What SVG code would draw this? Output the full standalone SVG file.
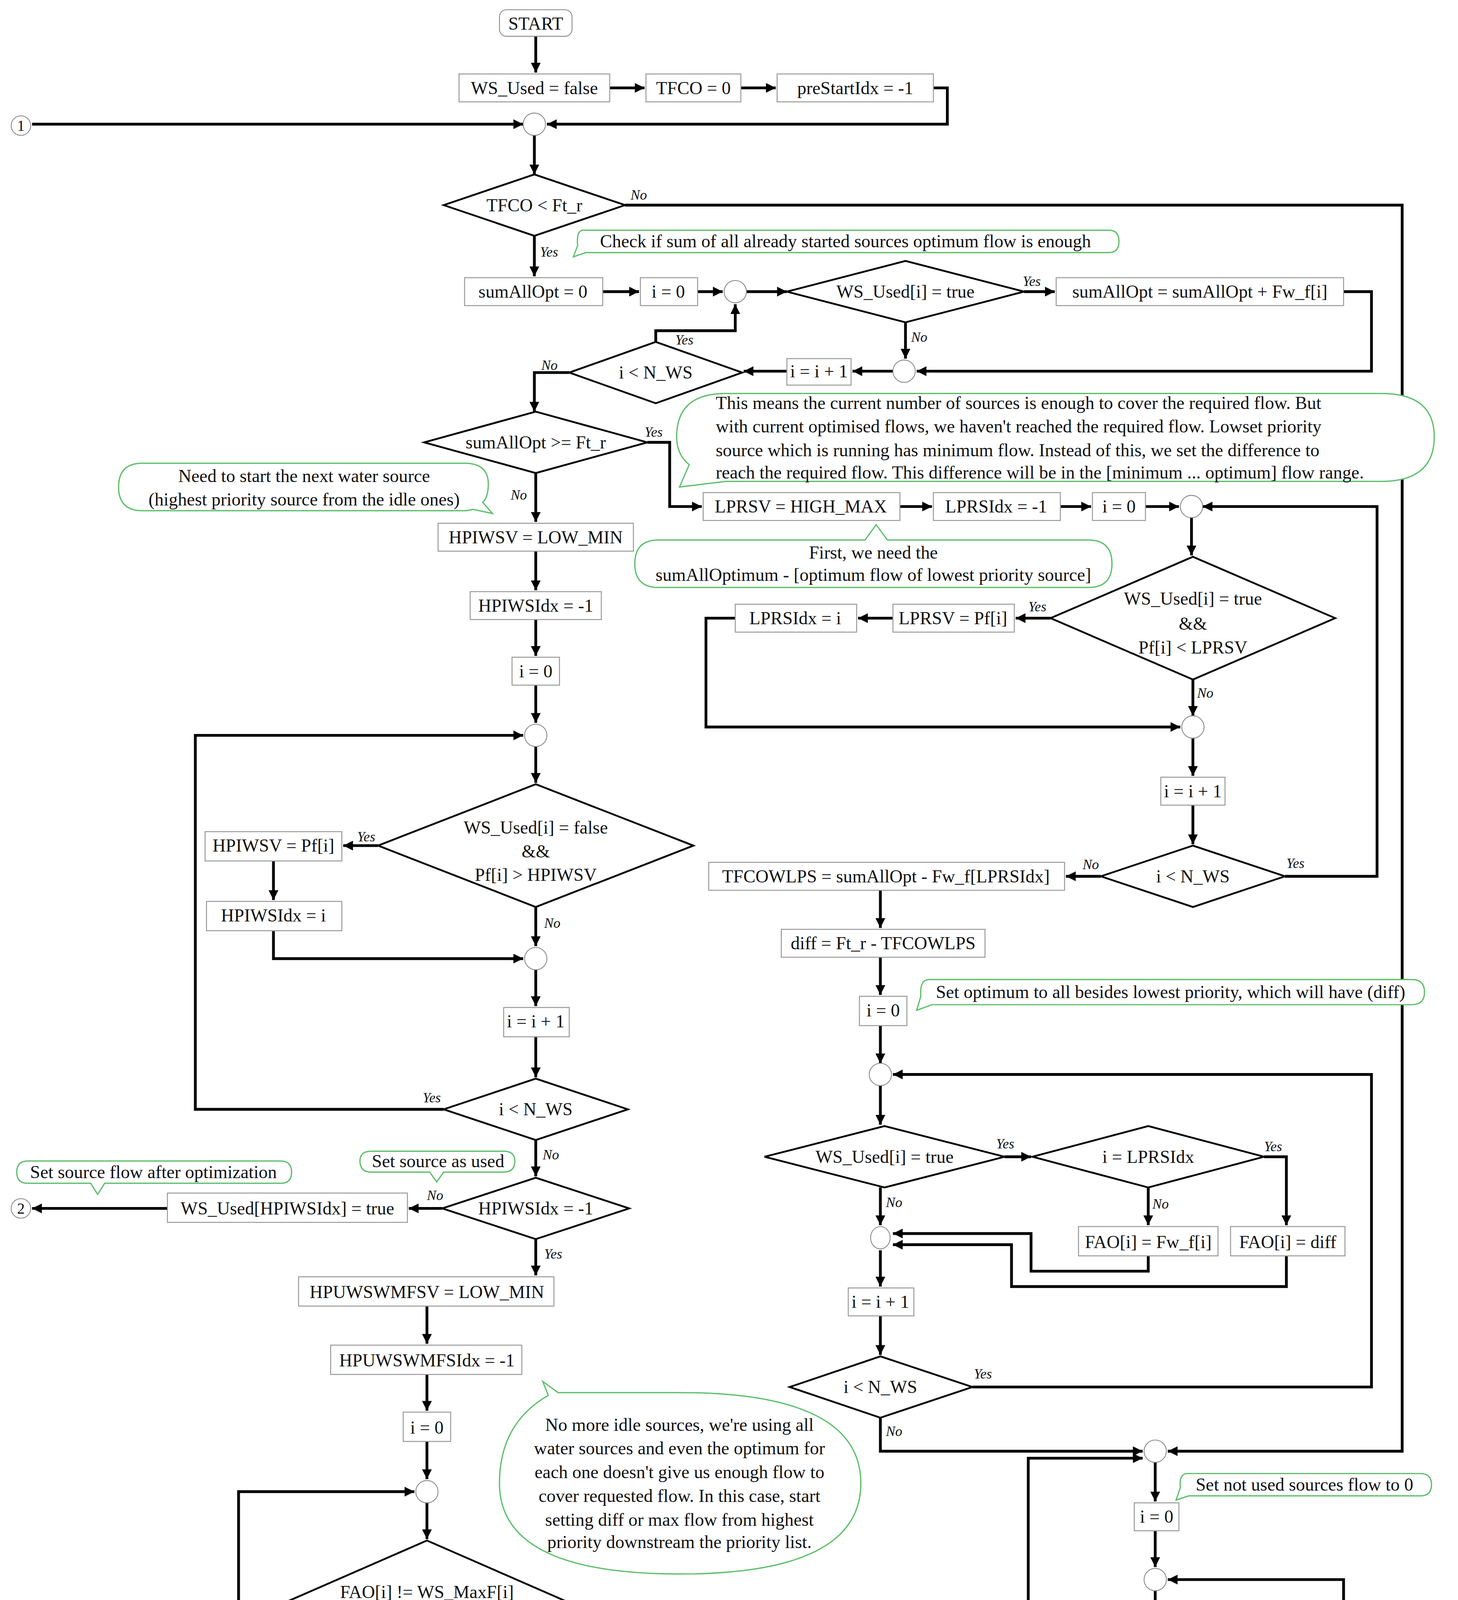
<svg xmlns="http://www.w3.org/2000/svg" width="3733" height="5607" viewBox="0 0 3733 5607">
<style>
.b{fill:#fff;stroke:#999;stroke-width:0.7}
.d{fill:#fff;stroke:#000;stroke-width:1.3}
.c{fill:#fff;stroke:#888;stroke-width:0.6}
.g{fill:#fff;stroke:#5cbf6a;stroke-width:0.9}
.k{fill:none;stroke:#000;stroke-width:2}
text{font-family:"Liberation Serif","DejaVu Serif",serif;font-size:13px;fill:#111}
.t{text-anchor:middle;dominant-baseline:central}
.l{font-size:10px;font-style:italic}
.n{font-size:11px;text-anchor:middle;dominant-baseline:central}
</style>
<defs>
<marker id="a" viewBox="0 0 10 10" refX="10" refY="5" markerWidth="8" markerHeight="7" markerUnits="userSpaceOnUse" orient="auto"><path d="M0,0L10,5L0,10z" fill="#000"/></marker>
</defs>
<rect width="3733" height="5607" fill="#fff"/>
<g transform="scale(3.5722)">
<g id="connectors" class="k" marker-end="url(#a)">
<path d="M384,26V52"/>
<path d="M437,63H462"/>
<path d="M531,63H556"/>
<path d="M669,63H679V89H392"/>
<path d="M23,89H375"/>
<path d="M383,97V125"/>
<path d="M448,147H1005V1040H837"/>
<path d="M383,169V198"/>
<path d="M432,209H458"/>
<path d="M500,209H518"/>
<path d="M535,209H564"/>
<path d="M734,209H756"/>
<path d="M963,209H983V266H657"/>
<path d="M649,231V257"/>
<path d="M640,266H611"/>
<path d="M564,266H533"/>
<path d="M470,245V237H527V218"/>
<path d="M408,267H383V295"/>
<path d="M464,317H480V363H503"/>
<path d="M384,339V374"/>
<path d="M645,363H668"/>
<path d="M760,363H782"/>
<path d="M821,363H845"/>
<path d="M921,628H987V363H862"/>
<path d="M854,371V398"/>
<path d="M753,443H728"/>
<path d="M640,443H615"/>
<path d="M527,443H506V521H846"/>
<path d="M855,487V513"/>
<path d="M855,529V556"/>
<path d="M855,577V605"/>
<path d="M789,628H764"/>
<path d="M631,638V665"/>
<path d="M631,686V713"/>
<path d="M631,735V762"/>
<path d="M697,994H983V770H640"/>
<path d="M631,778V806"/>
<path d="M720,829H739"/>
<path d="M906,829H922V878"/>
<path d="M823,851V878"/>
<path d="M631,851V878"/>
<path d="M823,900V911H739V884H640"/>
<path d="M922,900V922H725V892H640"/>
<path d="M631,896V922"/>
<path d="M631,943V971"/>
<path d="M631,1016V1040H819"/>
<path d="M384,395V423"/>
<path d="M384,444V470"/>
<path d="M384,491V518"/>
<path d="M318,795H140V527H375"/>
<path d="M384,535V561"/>
<path d="M271,606H246"/>
<path d="M196,617V645"/>
<path d="M196,667V687H375"/>
<path d="M384,650V678"/>
<path d="M384,695V721"/>
<path d="M384,743V772"/>
<path d="M384,817V843"/>
<path d="M317,866H293"/>
<path d="M120,866H23"/>
<path d="M384,888V914"/>
<path d="M306,936V963"/>
<path d="M306,985V1011"/>
<path d="M306,1033V1060"/>
<path d="M239,1355H171V1069H297"/>
<path d="M306,1077V1103"/>
<path d="M432,1159H456"/>
<path d="M528,1170V1197"/>
<path d="M528,1218V1247H315"/>
<path d="M306,1214V1238"/>
<path d="M306,1255V1282"/>
<path d="M306,1304V1332"/>
<path d="M306,1377V1401"/>
<path d="M203,1424H181"/>
<path d="M111,1424H88"/>
<path d="M53,1424H23"/>
<path d="M409,1424H432V1481"/>
<path d="M23,1491H423"/>
<path d="M441,1490H737V1045H819"/>
<path d="M828,1048V1076"/>
<path d="M828,1097V1123"/>
<path d="M895,1448H963V1132H837"/>
<path d="M828,1140V1166"/>
<path d="M908,1211H924V1341H837"/>
<path d="M828,1255V1283"/>
<path d="M828,1304V1332"/>
<path d="M828,1349V1375"/>
<path d="M828,1396V1425"/>
<path d="M829,1470V1494"/>
</g>
<g id="labels">
<text class="l" x="452" y="143">No</text>
<text class="l" x="387" y="184">Yes</text>
<text class="l" x="733" y="205">Yes</text>
<text class="l" x="653" y="245">No</text>
<text class="l" x="484" y="247">Yes</text>
<text class="l" x="388" y="265">No</text>
<text class="l" x="462" y="313">Yes</text>
<text class="l" x="366" y="358">No</text>
<text class="l" x="737" y="438">Yes</text>
<text class="l" x="858" y="500">No</text>
<text class="l" x="922" y="622">Yes</text>
<text class="l" x="776" y="623">No</text>
<text class="l" x="714" y="823">Yes</text>
<text class="l" x="906" y="825">Yes</text>
<text class="l" x="635" y="865">No</text>
<text class="l" x="826" y="866">No</text>
<text class="l" x="698" y="988">Yes</text>
<text class="l" x="635" y="1029">No</text>
<text class="l" x="256" y="603">Yes</text>
<text class="l" x="390" y="665">No</text>
<text class="l" x="303" y="790">Yes</text>
<text class="l" x="389" y="831">No</text>
<text class="l" x="306" y="860">No</text>
<text class="l" x="390" y="902">Yes</text>
<text class="l" x="434" y="1155">Yes</text>
<text class="l" x="312" y="1226">No</text>
<text class="l" x="227" y="1351">Yes</text>
<text class="l" x="312" y="1390">No</text>
<text class="l" x="190" y="1419">No</text>
<text class="l" x="414" y="1421">Yes</text>
<text class="l" x="909" y="1206">No</text>
<text class="l" x="834" y="1269">Yes</text>
<text class="l" x="894" y="1442">Yes</text>
<text class="l" x="834" y="1483">No</text>
</g>
<g id="n-start"><rect class="c" x="358" y="7" width="52" height="19" rx="5"/><text class="t" x="384" y="17">START</text></g>
<g id="n-wsused"><rect class="b" x="329" y="53" width="108" height="20"/><text class="t" x="383" y="63">WS_Used = false</text></g>
<g id="n-tfco0"><rect class="b" x="463" y="53" width="68" height="20"/><text class="t" x="497" y="63">TFCO = 0</text></g>
<g id="n-prestart"><rect class="b" x="557" y="53" width="112" height="20"/><text class="t" x="613" y="63">preStartIdx = -1</text></g>
<g id="c1"><circle class="c" cx="15" cy="90" r="7"/><text class="n" x="15" y="90">1</text></g>
<g id="c2"><circle class="c" cx="15" cy="866" r="7"/><text class="n" x="15" y="866">2</text></g>
<g id="c3"><circle class="c" cx="15" cy="1424" r="7"/><text class="n" x="15" y="1424">3</text></g>
<g id="c4"><circle class="c" cx="15" cy="1491" r="7"/><text class="n" x="15" y="1491">4</text></g>
<g id="m1"><ellipse class="c" cx="383" cy="89" rx="8" ry="8"/></g>
<g id="d-tfco"><path class="d" d="M318,147L383,125L448,147L383,169Z"/><text class="t" x="383" y="147">TFCO &lt; Ft_r</text></g>
<g id="note1"><path class="g" d="M418,165H795Q802,165 802,173Q802,181 795,181H420L411,184L414,176Q413,165 418,165Z"/><text class="t" x="606" y="173">Check if sum of all already started sources optimum flow is enough</text></g>
<g id="n-sum0"><rect class="b" x="333" y="199" width="99" height="20"/><text class="t" x="382" y="209">sumAllOpt = 0</text></g>
<g id="n-i0a"><rect class="b" x="459" y="199" width="41" height="20"/><text class="t" x="479" y="209">i = 0</text></g>
<g id="m2"><circle class="c" cx="527" cy="209" r="8"/></g>
<g id="d-wsused1"><path class="d" d="M564,209L649,187L734,209L649,231Z"/><text class="t" x="649" y="209">WS_Used[i] = true</text></g>
<g id="n-sumadd"><rect class="b" x="757" y="199" width="206" height="20"/><text class="t" x="860" y="209">sumAllOpt = sumAllOpt + Fw_f[i]</text></g>
<g id="m3"><circle class="c" cx="648" cy="266" r="8"/></g>
<g id="n-inc1"><rect class="b" x="564" y="257" width="46" height="19"/><text class="t" x="587" y="266">i = i + 1</text></g>
<g id="d-n1"><path class="d" d="M408,267L470,245L532,267L470,289Z"/><text class="t" x="470" y="267">i &lt; N_WS</text></g>
<g id="d-sumopt"><path class="d" d="M304,317L384,295L464,317L384,339Z"/><text class="t" x="384" y="317">sumAllOpt &gt;= Ft_r</text></g>
<g id="note2"><path class="g" d="M520,282H990Q1028,282 1028,313Q1028,345 990,345H520L487,349L494,333Q485,326 485,313Q485,282 520,282Z"/>
<text x="513" y="293">This means the current number of sources is enough to cover the required flow. But</text>
<text x="513" y="310">with current optimised flows, we haven't reached the required flow. Lowset priority</text>
<text x="513" y="327">source which is running has minimum flow. Instead of this, we set the difference to</text>
<text x="513" y="343">reach the required flow. This difference will be in the [minimum ... optimum] flow range.</text></g>
<g id="note3"><path class="g" d="M102,332H333Q350,332 350,347Q350,356 346,360L353,368L339,365Q335,366 333,366H102Q85,366 85,349Q85,332 102,332Z"/>
<text class="t" x="218" y="341">Need to start the next water source</text>
<text class="t" x="218" y="358">(highest priority source from the idle ones)</text></g>
<g id="n-lprsv"><rect class="b" x="504" y="353" width="141" height="20"/><text class="t" x="574" y="363">LPRSV = HIGH_MAX</text></g>
<g id="n-lprsidx"><rect class="b" x="669" y="353" width="91" height="20"/><text class="t" x="714" y="363">LPRSIdx = -1</text></g>
<g id="n-i0b"><rect class="b" x="783" y="353" width="38" height="20"/><text class="t" x="802" y="363">i = 0</text></g>
<g id="m4"><circle class="c" cx="854" cy="363" r="8"/></g>
<g id="note4"><path class="g" d="M472,387H620L628,376L636,387H780Q797,387 797,404Q797,421 780,421H472Q455,421 455,404Q455,387 472,387Z"/>
<text class="t" x="626" y="396">First, we need the</text>
<text class="t" x="626" y="412">sumAllOptimum - [optimum flow of lowest priority source]</text></g>
<g id="d-lprs"><path class="d" d="M753,443L855,399L957,443L855,487Z"/><text class="t" x="855" y="429">WS_Used[i] = true</text><text class="t" x="855" y="447">&amp;&amp;</text><text class="t" x="855" y="464">Pf[i] &lt; LPRSV</text></g>
<g id="n-lprsvpf"><rect class="b" x="640" y="433" width="87" height="20"/><text class="t" x="683" y="443">LPRSV = Pf[i]</text></g>
<g id="n-lprsidxi"><rect class="b" x="527" y="433" width="87" height="20"/><text class="t" x="570" y="443">LPRSIdx = i</text></g>
<g id="m5"><circle class="c" cx="855" cy="521" r="8"/></g>
<g id="n-inc2"><rect class="b" x="832" y="557" width="46" height="20"/><text class="t" x="855" y="567">i = i + 1</text></g>
<g id="d-n2"><path class="d" d="M789,628L855,606L921,628L855,650Z"/><text class="t" x="855" y="628">i &lt; N_WS</text></g>
<g id="n-tfcowlps"><rect class="b" x="508" y="618" width="255" height="20"/><text class="t" x="635" y="628">TFCOWLPS = sumAllOpt - Fw_f[LPRSIdx]</text></g>
<g id="n-diff"><rect class="b" x="560" y="666" width="146" height="20"/><text class="t" x="633" y="676">diff = Ft_r - TFCOWLPS</text></g>
<g id="n-i0c"><rect class="b" x="616" y="714" width="34" height="21"/><text class="t" x="633" y="724">i = 0</text></g>
<g id="note5"><path class="g" d="M666,702H1012Q1021,702 1021,711Q1021,720 1012,720H668L657,724L660,714Q659,702 666,702Z"/><text class="t" x="839" y="711">Set optimum to all besides lowest priority, which will have (diff)</text></g>
<g id="m6"><circle class="c" cx="631" cy="770" r="8"/></g>
<g id="d-wsused3"><path class="d" d="M548,829L634,807L720,829L634,851Z"/><text class="t" x="634" y="829">WS_Used[i] = true</text></g>
<g id="d-lprsidx"><path class="d" d="M740,829L823,807L906,829L823,851Z"/><text class="t" x="823" y="829">i = LPRSIdx</text></g>
<g id="n-faofw"><rect class="b" x="773" y="879" width="100" height="21"/><text class="t" x="823" y="890">FAO[i] = Fw_f[i]</text></g>
<g id="n-faodiff"><rect class="b" x="882" y="879" width="82" height="21"/><text class="t" x="923" y="890">FAO[i] = diff</text></g>
<g id="m7"><ellipse class="c" cx="631" cy="887" rx="7" ry="8"/></g>
<g id="n-inc3"><rect class="b" x="608" y="923" width="47" height="20"/><text class="t" x="631" y="933">i = i + 1</text></g>
<g id="d-n3"><path class="d" d="M566,994L631,972L697,994L631,1016Z"/><text class="t" x="631" y="994">i &lt; N_WS</text></g>
<g id="n-hpiwsv"><rect class="b" x="314" y="375" width="140" height="20"/><text class="t" x="384" y="385">HPIWSV = LOW_MIN</text></g>
<g id="n-hpiwsidx"><rect class="b" x="337" y="424" width="94" height="20"/><text class="t" x="384" y="434">HPIWSIdx = -1</text></g>
<g id="n-i0d"><rect class="b" x="367" y="471" width="34" height="20"/><text class="t" x="384" y="481">i = 0</text></g>
<g id="m8"><circle class="c" cx="384" cy="527" r="8"/></g>
<g id="d-hpiw"><path class="d" d="M271,606L384,562L497,606L384,650Z"/><text class="t" x="384" y="593">WS_Used[i] = false</text><text class="t" x="384" y="610">&amp;&amp;</text><text class="t" x="384" y="627">Pf[i] &gt; HPIWSV</text></g>
<g id="n-hpiwsvpf"><rect class="b" x="147" y="596" width="98" height="21"/><text class="t" x="196" y="606">HPIWSV = Pf[i]</text></g>
<g id="n-hpiwsidxi"><rect class="b" x="148" y="646" width="97" height="21"/><text class="t" x="196" y="656">HPIWSIdx = i</text></g>
<g id="m9"><circle class="c" cx="384" cy="687" r="8"/></g>
<g id="n-inc4"><rect class="b" x="361" y="722" width="47" height="21"/><text class="t" x="384" y="732">i = i + 1</text></g>
<g id="d-n4"><path class="d" d="M318,795L384,773L450,795L384,817Z"/><text class="t" x="384" y="795">i &lt; N_WS</text></g>
<g id="d-hpiwsidx"><path class="d" d="M317,866L384,844L451,866L384,888Z"/><text class="t" x="384" y="866">HPIWSIdx = -1</text></g>
<g id="note6"><path class="g" d="M266,825H361Q369,825 369,832Q369,840 361,840H318L313,847L308,840H266Q258,840 258,832Q258,825 266,825Z"/><text class="t" x="314" y="832">Set source as used</text></g>
<g id="note7"><path class="g" d="M20,832H201Q209,832 209,840Q209,848 201,848H75L70,856L65,848H20Q12,848 12,840Q12,832 20,832Z"/><text class="t" x="110" y="840">Set source flow after optimization</text></g>
<g id="n-setused"><rect class="b" x="120" y="855" width="172" height="21"/><text class="t" x="206" y="866">WS_Used[HPIWSIdx] = true</text></g>
<g id="n-hpuv"><rect class="b" x="214" y="915" width="183" height="21"/><text class="t" x="306" y="926">HPUWSWMFSV = LOW_MIN</text></g>
<g id="n-hpuidx"><rect class="b" x="237" y="964" width="137" height="21"/><text class="t" x="306" y="975">HPUWSWMFSIdx = -1</text></g>
<g id="n-i0e"><rect class="b" x="289" y="1012" width="34" height="21"/><text class="t" x="306" y="1023">i = 0</text></g>
<g id="note8"><path class="g" d="M420,998H400L389,990L393,1000Q358,1020 358,1063Q358,1128 487,1128Q617,1128 617,1063Q617,998 487,998Z"/>
<text class="t" x="487" y="1021">No more idle sources, we're using all</text>
<text class="t" x="487" y="1038">water sources and even the optimum for</text>
<text class="t" x="487" y="1055">each one doesn't give us enough flow to</text>
<text class="t" x="487" y="1072">cover requested flow. In this case, start</text>
<text class="t" x="487" y="1089">setting diff or max flow from highest</text>
<text class="t" x="487" y="1105">priority downstream the priority list.</text></g>
<g id="m10"><circle class="c" cx="306" cy="1069" r="8"/></g>
<g id="d-fao"><path class="d" d="M180,1159L306,1104L432,1159L306,1214Z"/><text class="t" x="306" y="1141">FAO[i] != WS_MaxF[i]</text><text class="t" x="306" y="1159">&amp;&amp;</text><text class="t" x="306" y="1176">Pf[i] &gt; HPUWSWMFSV</text></g>
<g id="n-hpuvpf"><rect class="b" x="457" y="1149" width="142" height="21"/><text class="t" x="528" y="1160">HPUWSWMFSV = Pf[i]</text></g>
<g id="n-hpuidxi"><rect class="b" x="459" y="1198" width="140" height="20"/><text class="t" x="529" y="1208">HPUWSWMFSIdx = i</text></g>
<g id="m11"><circle class="c" cx="306" cy="1247" r="8"/></g>
<g id="n-inc5"><rect class="b" x="283" y="1283" width="47" height="21"/><text class="t" x="306" y="1293">i = i + 1</text></g>
<g id="d-n5"><path class="d" d="M239,1355L306,1333L373,1355L306,1377Z"/><text class="t" x="306" y="1355">i &lt; N_WS</text></g>
<g id="d-hpuidx"><path class="d" d="M203,1424L306,1402L409,1424L306,1446Z"/><text class="t" x="306" y="1424">HPUWSWMFSIdx = -1</text></g>
<g id="note9"><path class="g" d="M16,1380H235Q243,1380 243,1388Q243,1396 235,1396H202L197,1404L192,1396H16Q8,1396 8,1388Q8,1380 16,1380Z"/><text class="t" x="126" y="1388">Ensure we have an accurate TFCO value</text></g>
<g id="n-tfco0b"><rect class="b" x="111" y="1414" width="69" height="20"/><text class="t" x="145" y="1424">TFCO = 0</text></g>
<g id="n-i0f"><rect class="b" x="53" y="1414" width="34" height="20"/><text class="t" x="70" y="1424">i = 0</text></g>
<g id="note10"><path class="g" d="M445,1378H715Q732,1378 732,1395Q732,1412 715,1412H445Q436,1412 432,1408L416,1418L428,1402Q428,1395 428,1395Q428,1378 445,1378Z"/>
<text class="t" x="580" y="1387">All sources are set at maximum flow and still can't</text>
<text class="t" x="580" y="1403">reach requested flow</text></g>
<g id="m12"><circle class="c" cx="432" cy="1490" r="8"/></g>
<g id="m13"><circle class="c" cx="828" cy="1040" r="8"/></g>
<g id="note11"><path class="g" d="M851,1056H1018Q1026,1056 1026,1064Q1026,1072 1018,1072H852L843,1075L846,1066Q845,1056 851,1056Z"/><text class="t" x="935" y="1064">Set not used sources flow to 0</text></g>
<g id="n-i0g"><rect class="b" x="813" y="1077" width="32" height="20"/><text class="t" x="829" y="1087">i = 0</text></g>
<g id="m14"><circle class="c" cx="828" cy="1132" r="8"/></g>
<g id="d-wsused4"><path class="d" d="M748,1211L828,1167L908,1211L828,1255Z"/><text class="t" x="828" y="1211">WS_Used[i] = false</text></g>
<g id="n-fao0"><rect class="b" x="794" y="1284" width="68" height="20"/><text class="t" x="828" y="1294">FAO[i] = 0</text></g>
<g id="m15"><circle class="c" cx="828" cy="1341" r="8"/></g>
<g id="n-inc6"><rect class="b" x="805" y="1376" width="47" height="20"/><text class="t" x="828" y="1386">i = i + 1</text></g>
<g id="d-n6"><path class="d" d="M763,1448L829,1426L895,1448L829,1470Z"/><text class="t" x="829" y="1448">i &lt; N_WS</text></g>
<g id="n-stop"><rect class="c" x="802" y="1495" width="53" height="20" rx="5"/><text class="t" x="828" y="1505">STOP</text></g>
<text class="t" x="523" y="1549" style="font-size:16px">(<tspan font-weight="bold">a</tspan>)</text>
</g>
</svg>
